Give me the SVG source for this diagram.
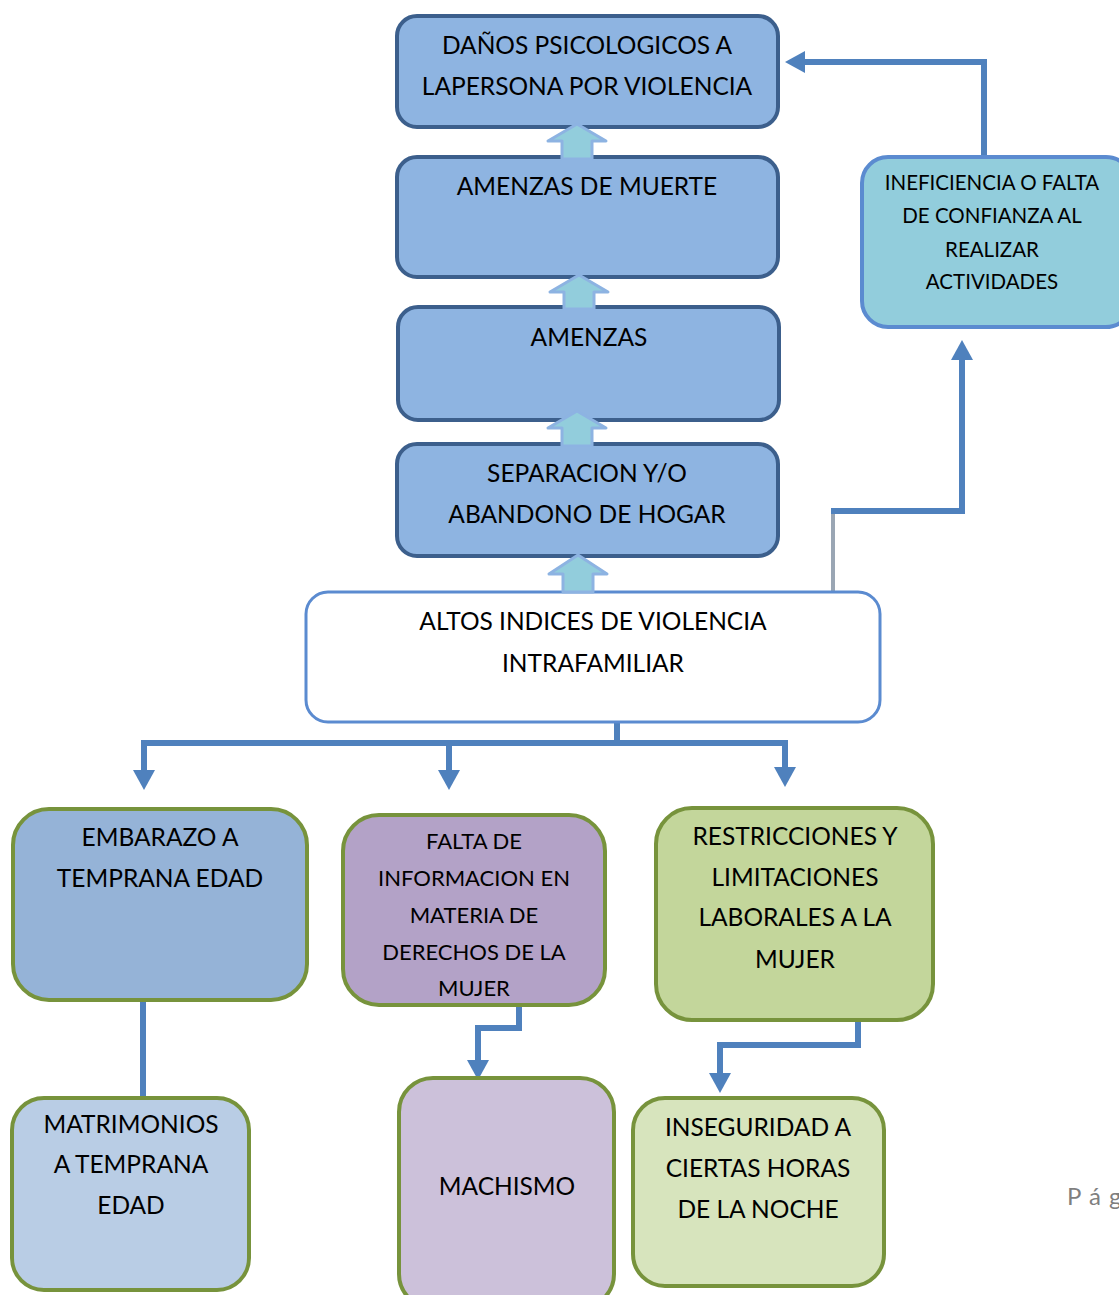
<svg xmlns="http://www.w3.org/2000/svg" width="1119" height="1295" viewBox="0 0 1119 1295">
<defs>
<style>
text{font-family:"Lato","Open Sans","Liberation Sans",sans-serif;fill:#000;text-anchor:middle}
.t24{font-size:24.5px}
.t22{font-size:22px}
.t20{font-size:20.5px}
.topbox{fill:#8EB4E1;stroke:#3C5F8C;stroke-width:4}
.gbox{stroke:#77933C;stroke-width:4}
.conn{fill:none;stroke:#4F81BD;stroke-width:6}
.blk{fill:#92CDDC;stroke:#8DB3E2;stroke-width:3;stroke-linejoin:round}
</style>
<marker id="ah" viewBox="0 0 20 22" refX="0" refY="11" markerWidth="20" markerHeight="22" markerUnits="userSpaceOnUse" orient="auto">
<path d="M0,0 L20,11 L0,22 Z" fill="#4F81BD"/>
</marker>
</defs>
<rect width="1119" height="1295" fill="#fff"/>

<g id="connectors">
<path class="conn" d="M984,160 L984,62 L805,62" marker-end="url(#ah)"/>
<path d="M833,592 L833,511" fill="none" stroke="#9AA6B4" stroke-width="4"/>
<path class="conn" d="M831,511 L962,511 L962,360" marker-end="url(#ah)"/>
<path class="conn" d="M617,720 L617,746"/>
<path class="conn" stroke-width="7" d="M141,743 L788,743"/>
<path class="conn" d="M144,743 L144,770" marker-end="url(#ah)"/>
<path class="conn" d="M449,743 L449,770" marker-end="url(#ah)"/>
<path class="conn" d="M785,743 L785,767" marker-end="url(#ah)"/>
<path class="conn" d="M143,1000 L143,1098"/>
<path class="conn" d="M519,1005 L519,1028 L478,1028 L478,1060" marker-end="url(#ah)"/>
<path class="conn" d="M858,1020 L858,1045 L720,1045 L720,1073" marker-end="url(#ah)"/>
</g>

<g id="n1">
<rect class="topbox" x="397" y="16" width="381" height="111" rx="20"/>
<text class="t24" x="587" y="54">DAÑOS PSICOLOGICOS A</text>
<text class="t24" x="587" y="95">LAPERSONA POR VIOLENCIA</text>
</g>
<g id="n2">
<rect class="topbox" x="397" y="157" width="381" height="120" rx="20"/>
<text class="t24" x="587" y="195">AMENZAS DE MUERTE</text>
</g>
<g id="n3">
<rect class="topbox" x="398" y="307" width="381" height="113" rx="20"/>
<text class="t24" x="589" y="346">AMENZAS</text>
</g>
<g id="n4">
<rect class="topbox" x="397" y="444" width="381" height="112" rx="20"/>
<text class="t24" x="587" y="482">SEPARACION Y/O</text>
<text class="t24" x="587" y="523">ABANDONO DE HOGAR</text>
</g>
<g id="n5">
<rect x="306" y="592" width="574" height="130" rx="22" fill="#fff" stroke="#5B8BD0" stroke-width="3"/>
<text class="t24" x="593" y="630">ALTOS INDICES DE VIOLENCIA</text>
<text class="t24" x="593" y="672">INTRAFAMILIAR</text>
</g>
<g id="n6">
<rect x="862" y="157" width="270" height="170" rx="26" fill="#92CDDC" stroke="#5B8BD0" stroke-width="4"/>
<text class="t20" x="992" y="190">INEFICIENCIA O FALTA</text>
<text class="t20" x="992" y="223">DE CONFIANZA AL</text>
<text class="t20" x="992" y="257">REALIZAR</text>
<text class="t20" x="992" y="289">ACTIVIDADES</text>
</g>

<g id="blockarrows">
<path class="blk" d="M577,124 L606,141 L592,141 L592,159 L562,159 L562,141 L548,141 Z"/>
<path class="blk" d="M579,275 L608,292 L594,292 L594,309 L564,309 L564,292 L550,292 Z"/>
<path class="blk" d="M577,411 L606,428 L592,428 L592,446 L562,446 L562,428 L548,428 Z"/>
<path class="blk" d="M578,555 L607,574 L593,574 L593,592 L563,592 L563,574 L549,574 Z"/>
</g>

<g id="n7">
<rect class="gbox" fill="#95B3D7" x="13" y="809" width="294" height="191" rx="36"/>
<text class="t24" x="160" y="846">EMBARAZO A</text>
<text class="t24" x="160" y="887">TEMPRANA EDAD</text>
</g>
<g id="n8">
<rect class="gbox" fill="#B3A2C7" x="343" y="815" width="262" height="190" rx="36"/>
<text class="t22" x="474" y="849">FALTA DE</text>
<text class="t22" x="474" y="886">INFORMACION EN</text>
<text class="t22" x="474" y="923">MATERIA DE</text>
<text class="t22" x="474" y="960">DERECHOS DE LA</text>
<text class="t22" x="474" y="996">MUJER</text>
</g>
<g id="n9">
<rect class="gbox" fill="#C3D69B" x="656" y="808" width="277" height="212" rx="36"/>
<text class="t24" x="795" y="845">RESTRICCIONES Y</text>
<text class="t24" x="795" y="886">LIMITACIONES</text>
<text class="t24" x="795" y="926">LABORALES A LA</text>
<text class="t24" x="795" y="968">MUJER</text>
</g>
<g id="n10">
<rect class="gbox" fill="#B9CDE5" x="12" y="1098" width="237" height="192" rx="32"/>
<text class="t24" x="131" y="1133">MATRIMONIOS</text>
<text class="t24" x="131" y="1173">A TEMPRANA</text>
<text class="t24" x="131" y="1214">EDAD</text>
</g>
<g id="n11">
<rect class="gbox" fill="#CCC1DA" x="399" y="1078" width="215" height="230" rx="34"/>
<text class="t24" x="507" y="1195">MACHISMO</text>
</g>
<g id="n12">
<rect class="gbox" fill="#D7E4BD" x="633" y="1098" width="251" height="188" rx="32"/>
<text class="t24" x="758" y="1136">INSEGURIDAD A</text>
<text class="t24" x="758" y="1177">CIERTAS HORAS</text>
<text class="t24" x="758" y="1218">DE LA NOCHE</text>
</g>

<text x="1067" y="1205" style="font-size:24px;fill:#7F7F7F;text-anchor:start;letter-spacing:1px">P á g</text>
</svg>
